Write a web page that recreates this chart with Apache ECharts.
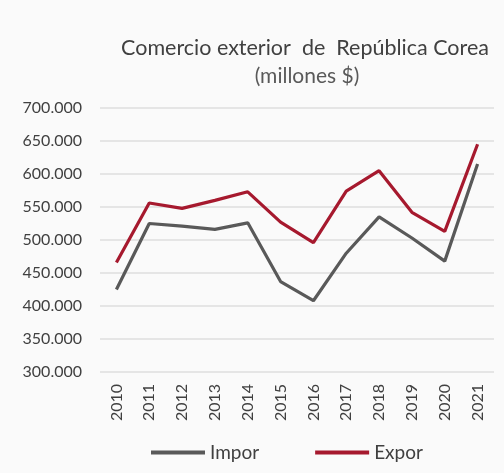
<!DOCTYPE html>
<html>
<head>
<meta charset="utf-8">
<script src="https://cdn.jsdelivr.net/npm/echarts@6/dist/echarts.min.js"></script>
<style>
html,body{margin:0;padding:0;background:#fff;}
#container{width:504px;height:473px;}
</style>
</head>
<body>
<div id="container"></div>
<script>
var years = ['2010','2011','2012','2013','2014','2015','2016','2017','2018','2019','2020','2021'];
var impor = [425000, 525000, 521000, 516000, 526000, 437000, 408000, 480000, 535000, 503000, 468000, 615000];
var expor = [466000, 556000, 548000, 560000, 573000, 527000, 496000, 574000, 605000, 542000, 513000, 645000];

var myChart = echarts.init(document.getElementById('container'));
var fmt = function(v) {
	return String(v).replace(/\B(?=(\d{3})+(?!\d))/g, '.');
};
var option = {
	backgroundColor : '#fafafa',
	textStyle : { fontFamily : 'Lato' },
	title : [{
		text : 'Comercio exterior  de  República Corea',
		left : 300,
		top : 32,
		textAlign : 'center',
		textStyle : { fontSize : 21.5, fontWeight : 'normal', color : '#404040', fontFamily : 'Lato' }
	}, {
		text : '(millones $)',
		left : 302,
		top : 61,
		textAlign : 'center',
		textStyle : { fontSize : 21, fontWeight : 'normal', color : '#595959', fontFamily : 'Lato' }
	}],
	legend : {
		bottom : 6,
		left : 146,
		itemGap : 56,
		itemWidth : 54,
		itemHeight : 4,
		icon : 'rect',
		textStyle : { fontSize : 19, color : '#404040' },
		data : ['Impor', 'Expor']
	},
	grid : {
		left : 100,
		right : 10,
		top : 108,
		bottom : 101
	},
	xAxis : [{
		type : 'category',
		boundaryGap : true,
		data : years,
		axisLine : { show : false },
		axisTick : { show : false },
		axisLabel : { rotate : 90, fontSize : 16, color : '#404040', margin : 12 }
	}],
	yAxis : [{
		type : 'value',
		min : 300000,
		max : 700000,
		interval : 50000,
		axisLabel : { formatter : fmt, fontSize : 16, color : '#404040', margin : 18 },
		splitLine : { lineStyle : { color : '#dedede', width : 1.5 } }
	}],
	series : [{
		name : 'Impor',
		type : 'line',
		data : impor,
		symbol : 'none',
		itemStyle : { color : '#595959' },
		lineStyle : { color : '#595959', width : 3.2 }
	}, {
		name : 'Expor',
		type : 'line',
		data : expor,
		symbol : 'none',
		itemStyle : { color : '#a6192e' },
		lineStyle : { color : '#a6192e', width : 3.2 }
	}]
};
myChart.setOption(option);
</script>
</body>
</html>
